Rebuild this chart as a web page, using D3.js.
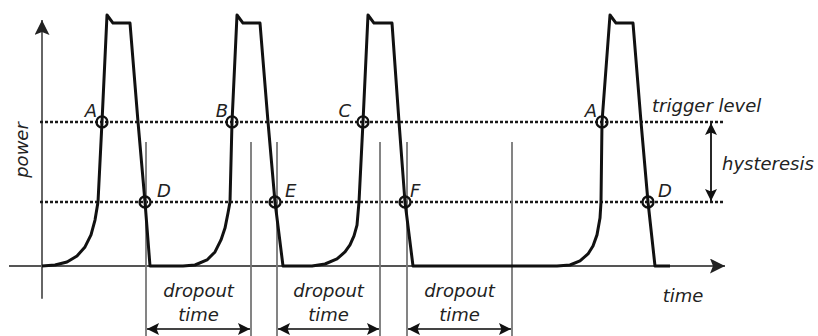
<!DOCTYPE html>
<html><head><meta charset="utf-8">
<script src="https://cdn.jsdelivr.net/npm/d3@7"></script>
<style>
html,body{margin:0;padding:0;background:#fff;}
svg{display:block;}
text{font-family:"DejaVu Sans",sans-serif;font-style:italic;font-size:18px;fill:#222;}
</style></head>
<body>
<svg id="chart" width="818" height="336"></svg>
<script>
// ---- data (time units, power in % of peak) ----
const pulse1 = [[0,0],[13,0.4],[25,1.6],[35,4],[43,7.6],[49,12.4],[53,18.3],[56,25.5],[60,57.4],[65,100],[71,96.8],[88,96.8],[96,57.4],[103,25.5],[108,0]];
const pulse2 = [[141,0],[153,0.4],[165,2.4],[173,5.6],[179,10.4],[183,15.1],[186,21.1],[188,25.5],[190,57.4],[195,100],[201,96.8],[218,96.8],[226,57.4],[233,25.5],[241,0]];
const pulse3 = [[270,0],[283,0.8],[295,2.8],[303,5.6],[308,8.4],[312,12],[315,16.3],[317,25.5],[321,57.4],[326,100],[332,96.8],[350,96.8],[357,57.4],[363,25.5],[371,0]];
const pulse4 = [[515,0],[528,0.4],[538,2],[546,4.8],[551,8],[555,12.4],[558,19.1],[559,25.5],[560,57.4],[568,100],[574,96.8],[591,96.8],[599,57.4],[606,25.5],[613,0],[628,0]];
const triggerLevel = 57.4;
const lowLevel = 25.5;
const crossingNames = ["A","D","B","E","C","F","A","D"];
const crossingTimes = [60,103,190,233,321,363,560,606];
const crossingLevels = [57.4,25.5,57.4,25.5,57.4,25.5,57.4,25.5];
const dropoutStarts = [104,235,365];
const dropoutEnds = [209,338,470];
const dropoutLabel = ["dropout","time"];
const axisLabels = {x:"time", y:"power"};
const levelLabels = ["trigger level","hysteresis"];

// ---- scales ----
const x = d3.scaleLinear().domain([0,700]).range([42,742]);
const y = d3.scaleLinear().domain([0,100]).range([266,15]);
const svg = d3.select("#chart");

const defs = svg.append("defs");
function marker(id, color, w, h){
  defs.append("marker").attr("id",id).attr("viewBox","0 0 10 10")
    .attr("refX",10).attr("refY",5).attr("markerWidth",w).attr("markerHeight",h)
    .attr("markerUnits","userSpaceOnUse").attr("orient","auto-start-reverse")
    .append("path").attr("d","M0,0 L10,5 L0,10 L2,5 Z").attr("fill",color);
}
marker("axArrow","#222",19,15);
marker("smArrow","#111",16,12);

// axes
svg.append("line").attr("x1",x(-33)).attr("x2",x(683)).attr("y1",y(0)).attr("y2",y(0))
  .attr("stroke","#555").attr("stroke-width",2).attr("marker-end","url(#axArrow)");
svg.append("line").attr("x1",x(0)).attr("x2",x(0)).attr("y1",y(-13)).attr("y2",y(98))
  .attr("stroke","#666").attr("stroke-width",2).attr("marker-end","url(#axArrow)");

// level lines
[triggerLevel, lowLevel].forEach(l=>{
  svg.append("line").attr("x1",x(-2)).attr("x2",x(683)).attr("y1",y(l)).attr("y2",y(l))
    .attr("stroke","#1a1a1a").attr("stroke-width",2.4).attr("stroke-dasharray","3,2");
});

// dropout vertical markers
dropoutStarts.concat(dropoutEnds).forEach(t=>{
  svg.append("line").attr("x1",x(t)).attr("x2",x(t)).attr("y1",y(49.4)).attr("y2",y(-29))
    .attr("stroke","#777").attr("stroke-width",1.8);
});

// waveform
const line = d3.line().x(d=>x(d[0])).y(d=>y(d[1]));
const wave = [].concat(pulse1,pulse2,pulse3,pulse4);
svg.append("path").attr("d",line(wave)).attr("fill","none")
  .attr("stroke","#111").attr("stroke-width",3).attr("stroke-linejoin","round");

// crossing circles + labels
const labelDx = [-5,12,-4,10,-12,5,-5,10];
crossingTimes.forEach((t,i)=>{
  const lv = crossingLevels[i];
  svg.append("circle").attr("cx",x(t)).attr("cy",y(lv)).attr("r",5.5)
    .attr("fill","none").attr("stroke","#111").attr("stroke-width",2.3);
  const up = lv===triggerLevel;
  svg.append("text").attr("x",x(t)+labelDx[i]).attr("y",y(lv)-5)
    .attr("text-anchor", up ? "end":"start").text(crossingNames[i]);
});

// dropout arrows + labels
dropoutStarts.forEach((s,i)=>{
  const e = dropoutEnds[i];
  svg.append("line").attr("x1",x(s)+1).attr("x2",x(e)-1).attr("y1",y(-25.1)).attr("y2",y(-25.1))
    .attr("stroke","#444").attr("stroke-width",2)
    .attr("marker-start","url(#smArrow)").attr("marker-end","url(#smArrow)");
  const cx = (x(s)+x(e))/2;
  svg.append("text").attr("x",cx).attr("y",297).attr("text-anchor","middle").text(dropoutLabel[0]);
  svg.append("text").attr("x",cx).attr("y",321).attr("text-anchor","middle").text(dropoutLabel[1]);
});

// hysteresis arrow
svg.append("line").attr("x1",x(669)).attr("x2",x(669)).attr("y1",y(triggerLevel)+1).attr("y2",y(lowLevel)-1)
  .attr("stroke","#111").attr("stroke-width",1.8)
  .attr("marker-start","url(#smArrow)").attr("marker-end","url(#smArrow)");
svg.append("text").attr("x",x(610)).attr("y",112).text(levelLabels[0]);
svg.append("text").attr("x",x(680)).attr("y",170).text(levelLabels[1]);

// axis labels
svg.append("text").attr("x",x(641)).attr("y",302).attr("text-anchor","middle").text(axisLabels.x);
svg.append("text").attr("transform","translate(28,150) rotate(-90)").attr("text-anchor","middle").text(axisLabels.y);
</script>
</body></html>
